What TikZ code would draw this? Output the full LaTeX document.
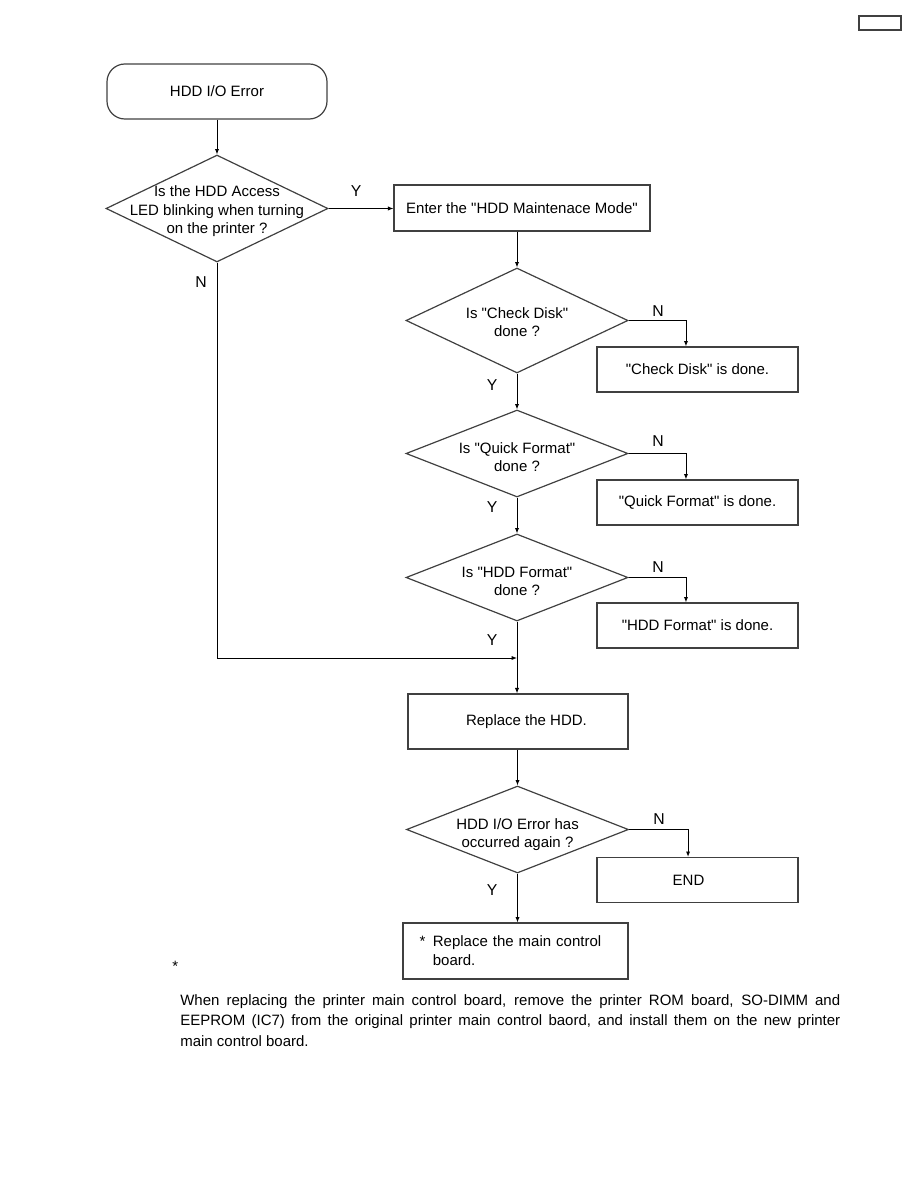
\documentclass[tikz,border=0pt]{standalone}
\usepackage{fontspec}
\setmainfont{Liberation Sans}[Ligatures=TeXOff]
\usetikzlibrary{shapes.geometric,arrows.meta}

\begin{document}
\begin{tikzpicture}[x=0.6667pt,y=-0.6667pt,
  every node/.style={font=\fontsize{10}{12.3}\selectfont},
  procbox/.style={draw=black!75,line width=0.8pt,align=center,inner sep=0pt},
  sidebox/.style={procbox,minimum width=134pt,minimum height=30pt},
  decision/.style={diamond,draw=black!75,line width=0.8pt,minimum width=148pt,
    minimum height=58pt,inner sep=0pt},
  dtext/.style={align=center,inner sep=0pt,yshift=-2.5pt},
  flow/.style={line width=0.6pt,-{Latex[length=3.6pt,width=2.8pt]}},
  yn/.style={font=\fontsize{10.5}{12}\selectfont,inner sep=0pt}]
  \useasboundingbox (0,0) rectangle (918,1188);

  \node[procbox,minimum width=28pt,minimum height=9.3pt] (tag) at (880,23) {};

  \node[procbox,rounded corners=12pt,minimum width=146.7pt,minimum height=36.7pt]
    (start) at (217,91.5) {HDD I/O Error};
  \node[decision,minimum height=71.3pt,
    label={[dtext,yshift=0.5pt]center:{Is the HDD Access\\LED blinking when turning\\on the printer ?}}]
    (access) at (217,208.5) {};
  \node[procbox,minimum width=170.7pt,minimum height=30.7pt]
    (mode) at (522,208) {Enter the "HDD Maintenace Mode"};

  \node[decision,minimum height=70pt,
    label={[dtext,yshift=1.5pt]center:{Is "Check Disk"\\done ?}}] (chkdisk) at (517,320.5) {};
  \node[sidebox] (chkdone) at (697.5,369.5) {"Check Disk" is done.};
  \node[decision,label={[dtext]center:{Is "Quick Format"\\done ?}}]
    (quick) at (517,453.5) {};
  \node[sidebox] (quickdone) at (697.5,502.5) {"Quick Format" is done.};
  \node[decision,label={[dtext]center:{Is "HDD Format"\\done ?}}]
    (hddfmt) at (517,577.5) {};
  \node[sidebox] (fmtdone) at (697.5,625.5) {"HDD Format" is done.};

  \node[procbox,minimum width=146.7pt,minimum height=36.7pt]
    (replace) at (518,721.5) {\hspace*{11.3pt}Replace the HDD.};
  \node[decision,label={[dtext,yshift=-0.8pt]center:{HDD I/O Error has\\occurred again ?}}]
    (again) at (517.5,829.5) {};
  \node[sidebox] (endbox) at (697.5,880) {\hspace*{-12pt}END};
  \node[procbox,minimum width=150pt,minimum height=37.3pt,text width=128pt,align=left,
    font=\fontsize{10}{12.7}\selectfont]
    (board) at (515.5,951) {*\hspace{5pt}Replace the main control\\\hphantom{*\hspace{5pt}}board.};

  \coordinate (join) at (517,658);

  \draw[flow] (start) -- (access);
  \draw[flow] (access.east) -- (access.east -| mode.west);
  \draw[flow] (chkdisk.north |- mode.south) -- (chkdisk.north);
  \draw[flow] (chkdisk.east) -| ([xshift=-7.7pt]chkdone.north);
  \draw[flow] (chkdisk) -- (quick);
  \draw[flow] (quick.east) -| ([xshift=-7.7pt]quickdone.north);
  \draw[flow] (quick) -- (hddfmt);
  \draw[flow] (hddfmt.east) -| ([xshift=-7.7pt]fmtdone.north);
  \draw[flow] (hddfmt.south) -- (hddfmt.south |- replace.north);
  \draw[flow] (access.south) |- (join);
  \draw[flow] (replace.south -| again.north) -- (again.north);
  \draw[flow] (again.east) -| ([xshift=-6.3pt]endbox.north);
  \draw[flow] (again.south) -- (again.south |- board.north);

  \node[yn] (ymode) at (356,191) {Y};
  \node[yn] (naccess) at (201,282) {N};
  \node[yn] (nchk) at (658,311) {N};
  \node[yn] (ychk) at (492,385) {Y};
  \node[yn] (nquick) at (658,441) {N};
  \node[yn] (yquick) at (492,507) {Y};
  \node[yn] (nfmt) at (658,567) {N};
  \node[yn] (yfmt) at (492,640) {Y};
  \node[yn] (nagain) at (659,819) {N};
  \node[yn] (yagain) at (492,890) {Y};

  \node[anchor=west,inner sep=0pt] (star) at (172,966) {*};
  \node[anchor=north west,inner sep=0pt,text width=440pt,align=justify,
    font=\fontsize{10}{13.7}\selectfont] (note) at (180,994)
    {\hyphenpenalty=10000
     When replacing the printer main control board, remove the printer ROM board, SO-DIMM and\linebreak
     EEPROM (IC7) from the original printer main control baord, and install them on the new printer\linebreak
     main control board.};
\end{tikzpicture}
\end{document}
